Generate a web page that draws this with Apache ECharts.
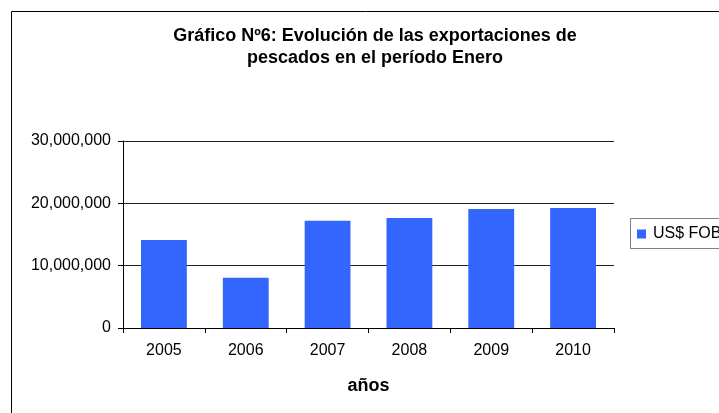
<!DOCTYPE html>
<html>
<head>
<meta charset="utf-8">
<script src="https://cdn.jsdelivr.net/npm/echarts@6/dist/echarts.min.js"></script>
<style>
  html, body { margin: 0; padding: 0; background: #fff; }
  #chart { width: 719px; height: 413px; }
</style>
</head>
<body>
<div id="chart"></div>
<script>
const years = ['2005', '2006', '2007', '2008', '2009', '2010']
const fobValues = [14100000, 8050000, 17200000, 17650000, 19100000, 19250000]
const seriesName = 'US$ FOB'
const titleText = 'Gráfico Nº6: Evolución de las exportaciones de\npescados en el período Enero'

const font = '"Liberation Sans", Arial, sans-serif'

const chart = echarts.init(document.getElementById('chart'))
chart.setOption({
  animation: false,
  backgroundColor: '#fff',
  title: {
    text: titleText,
    left: 370,
    top: 20,
    textAlign: 'center',
    textStyle: { fontFamily: font, fontSize: 18, fontWeight: 'bold', color: '#000', lineHeight: 22 }
  },
  legend: {
    data: [seriesName],
    left: 637,
    top: 226,
    icon: 'rect',
    itemWidth: 9,
    itemHeight: 9,
    padding: 0,
    textStyle: { fontFamily: font, fontSize: 16, color: '#000', padding: [0, 0, 0, 2] }
  },
  graphic: [
    { type: 'rect', shape: { x: 11.5, y: 11.5, width: 800, height: 500 }, style: { fill: 'none', stroke: '#000', lineWidth: 1 }, silent: true },
    { type: 'rect', shape: { x: 630.5, y: 218.5, width: 120, height: 30 }, style: { fill: 'none', stroke: '#808080', lineWidth: 1 }, silent: true }
  ],
  grid: { left: 123, right: 105, top: 141, bottom: 85 },
  xAxis: {
    type: 'category',
    data: years,
    name: 'años',
    nameLocation: 'middle',
    nameGap: 49,
    nameTextStyle: { fontFamily: font, fontSize: 18, fontWeight: 'bold', color: '#000' },
    axisLine: { lineStyle: { color: '#000', width: 1 } },
    axisTick: { show: true, length: 5, lineStyle: { color: '#000' } },
    axisLabel: { fontFamily: font, fontSize: 16, color: '#000', margin: 15 }
  },
  yAxis: {
    type: 'value',
    min: 0,
    max: 30000000,
    interval: 10000000,
    axisLine: { show: true, lineStyle: { color: '#000', width: 1 } },
    axisTick: { show: true, length: 5, lineStyle: { color: '#000' } },
    splitLine: { lineStyle: { color: '#222', width: 1 } },
    axisLabel: {
      fontFamily: font, fontSize: 16, color: '#000', margin: 12,
      formatter: v => v.toLocaleString('en-US')
    }
  },
  series: [{
    name: seriesName,
    type: 'bar',
    data: fobValues,
    barWidth: '56%',
    itemStyle: { color: '#3366FF' }
  }]
})
</script>
</body>
</html>
